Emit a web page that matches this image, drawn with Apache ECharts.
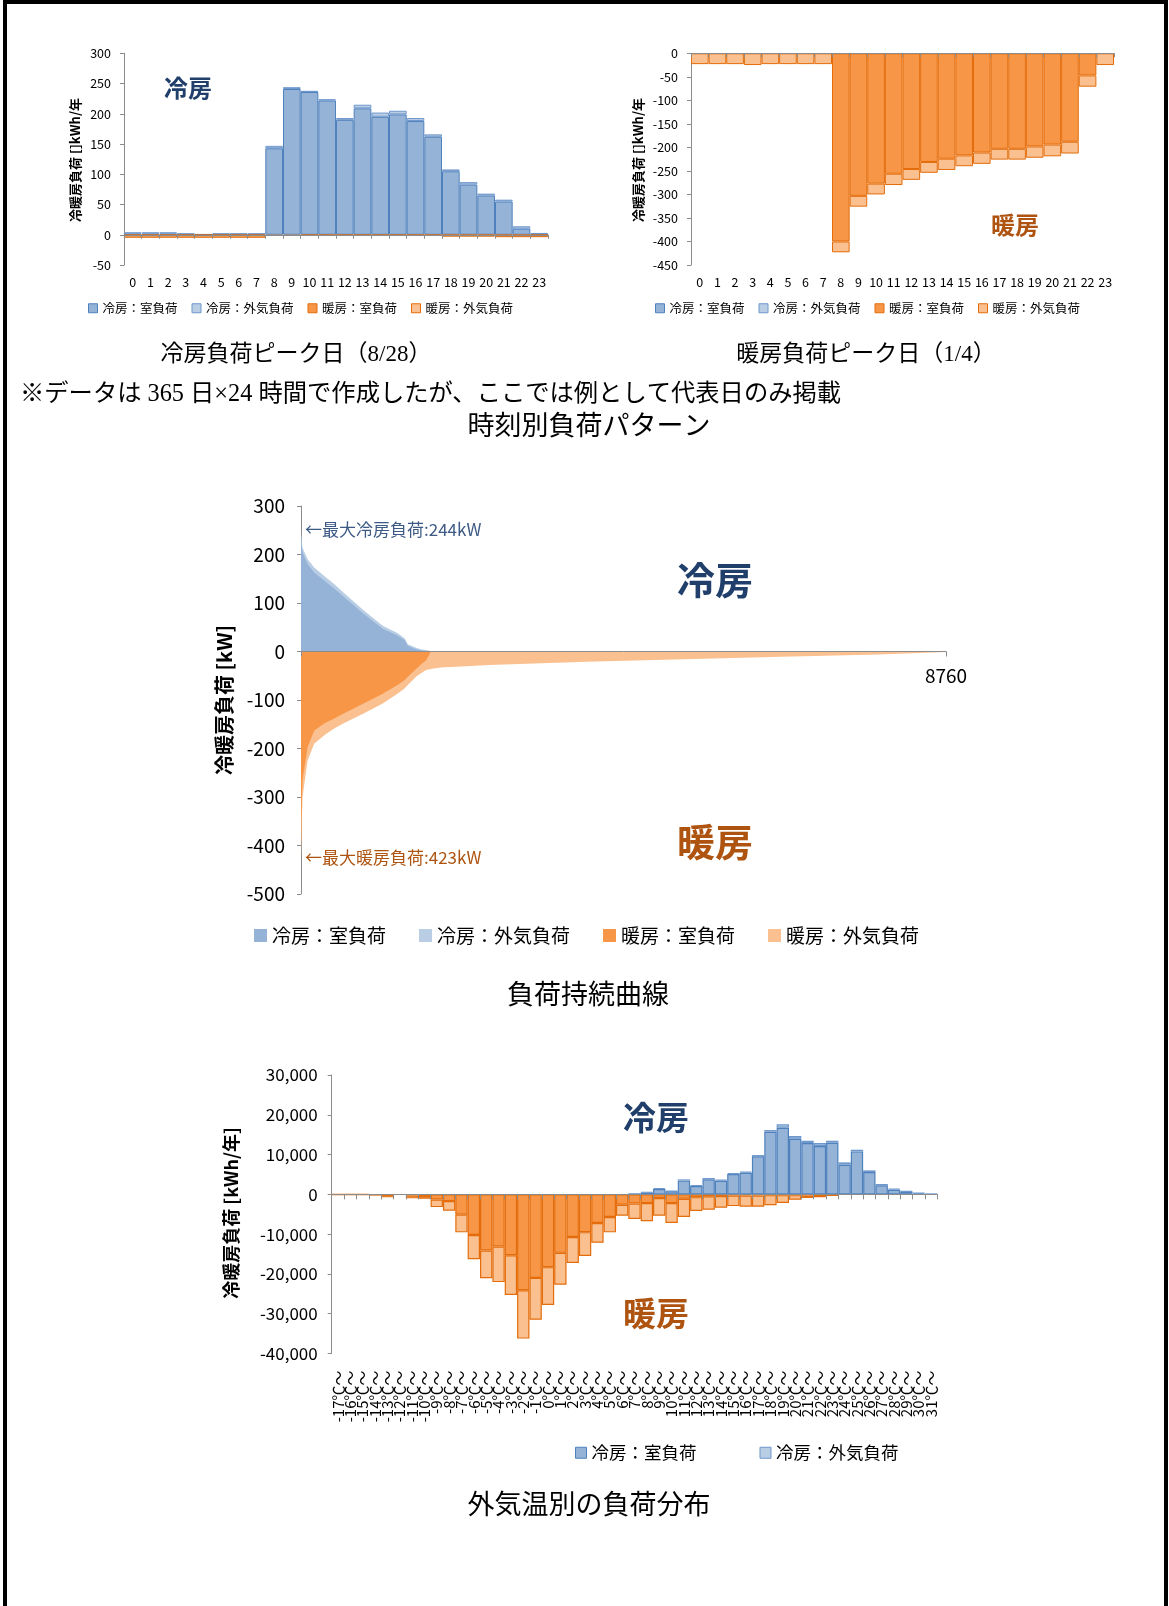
<!DOCTYPE html>
<html>
<head>
<meta charset="utf-8">
<script src="https://cdn.jsdelivr.net/npm/echarts/dist/echarts.min.js"></script>
<style>
html, body { margin: 0; padding: 0; background: #fff; }
#chart { position: absolute; left: 0; top: 0; width: 1169px; height: 1606px; }
#frame { position: absolute; left: 3px; top: 0; width: 1165px; height: 1606px; border: 4px solid #000; border-bottom: none; box-sizing: border-box; pointer-events: none; }
</style>
</head>
<body>
<div id="chart"></div>
<div id="frame"></div>
<script>
// ---- 時刻別負荷パターン : hours of the day ----
const hourLabels = ['0','1','2','3','4','5','6','7','8','9','10','11','12','13','14','15','16','17','18','19','20','21','22','23'];

// 冷房負荷ピーク日 (8/28) [kWh]
const coolDayCoolRoom = [2, 2, 2, 1, 1, 1, 1, 1, 143, 241, 236, 222, 190, 209, 195, 199, 188, 162, 105, 83, 65, 55, 10, 1];
const coolDayCoolOa   = [2, 2, 2, 1, 0, 1, 1, 1, 4, 3, 2, 2, 3, 6, 7, 6, 5, 4, 3, 4, 3, 3, 4, 2];
const coolDayHeatRoom = [-1, -1, -1, -1, -1, -1, -1, -1, 0, 0, 0, 0, 0, 0, 0, 0, 0, 0, -1, -1, -1, -1, -1, -1];
const coolDayHeatOa   = [-4, -4, -4, -4, -4, -4, -4, -4, -2, -2, -1, -1, -1, -1, -1, -1, -1, -1, -2, -2, -2, -3, -3, -3];

// 暖房負荷ピーク日 (1/4) [kWh]
const heatDayCoolRoom = [0, 0, 0, 0, 0, 0, 0, 0, 0, 0, 0, 0, 0, 0, 0, 0, 0, 0, 0, 0, 0, 0, 0, 0];
const heatDayCoolOa   = [0, 0, 0, 0, 0, 0, 0, 0, 0, 0, 0, 0, 0, 0, 0, 0, 0, 0, 0, 0, 0, 0, 0, 0];
const heatDayHeatRoom = [0, 0, 0, 0, 0, 0, 0, 0, -400, -303, -277, -256, -246, -231, -224, -217, -211, -203, -203, -198, -194, -188, -47, 0];
const heatDayHeatOa   = [-23, -23, -23, -25, -23, -23, -23, -23, -23, -23, -23, -24, -23, -23, -24, -23, -24, -23, -23, -24, -25, -25, -24, -25];

// ---- 負荷持続曲線 : sorted hourly loads, sampled at these ranks [h] ----
const durHours    = [0, 20, 90, 180, 320, 450, 580, 850, 1110, 1310, 1410, 1450, 1570, 1640, 1700, 1760, 1900, 2170, 2560, 3880, 5210, 6530, 7850, 8760];
const durCoolRoom = [236, 205, 180, 163, 146, 130, 113, 78, 47, 33, 23, 12, 4, 2, 1, 0, 0, 0, 0, 0, 0, 0, 0, 0];
const durCoolOa   = [8, 9, 10, 10, 9, 9, 8, 7, 6, 5, 4, 3, 3, 2, 2, 1, 1, 0, 0, 0, 0, 0, 0, 0];
const durHeatRoom = [-400, -265, -197, -163, -148, -138, -128, -107, -87, -69, -59, -52, -35, -25, -18, -1, 0, 0, 0, 0, 0, 0, 0, 0];
const durHeatOa   = [-23, -35, -27, -27, -24, -21, -20, -21, -20, -18, -17, -17, -16, -19, -20, -35, -33, -31, -28, -21, -16, -11, -6, -1];
const durTicks    = [0, 8760];

// ---- 外気温別の負荷分布 : outdoor temperature bins [kWh/年] ----
const tempLabels = ['-17℃～','-16℃～','-15℃～','-14℃～','-13℃～','-12℃～','-11℃～','-10℃～','-9℃～','-8℃～',
  '-7℃～','-6℃～','-5℃～','-4℃～','-3℃～','-2℃～','-1℃～','0℃～','1℃～','2℃～',
  '3℃～','4℃～','5℃～','6℃～','7℃～','8℃～','9℃～','10℃～','11℃～','12℃～',
  '13℃～','14℃～','15℃～','16℃～','17℃～','18℃～','19℃～','20℃～','21℃～','22℃～',
  '23℃～','24℃～','25℃～','26℃～','27℃～','28℃～','29℃～','30℃～','31℃～'];
const tempCoolRoom = [0, 0, 0, 0, 0, 0, 0, 0, 0, 0, 0, 0, 0, 0, 0, 0, 0, 0, 0, 0, 0, 0, 0, 0,
  80, 450, 1350, 750, 3450, 2100, 3770, 3430, 5100, 5440, 9550, 15750, 16750, 13990, 12900, 12140, 12980, 7450, 10800, 5610, 2260, 1170, 670, 250, 50];
const tempCoolOa = [0, 0, 0, 0, 0, 0, 0, 0, 0, 0, 0, 0, 0, 0, 0, 0, 0, 0, 0, 0, 0, 0, 0, 0,
  20, 150, 250, 170, 320, 250, 330, 260, 260, 260, 330, 410, 840, 670, 580, 760, 500, 590, 420, 420, 340, 250, 170, 170, 30];
const tempHeatRoom = [-50, -50, -50, -100, -500, 0, -300, -400, -1300, -1700, -5100, -10200, -14100, -13100, -15300, -24100, -21000, -18300, -14700, -10700,
  -9500, -7200, -5700, -2600, -2300, -2200, -900, -2200, -1100, -700, -500, -400, -300, -300, -300, -200, -200, -200, -300, -500,
  -200, 0, 0, 0, 0, 0, 0, 0, 0];
const tempHeatOa = [-50, -50, -50, -50, -200, 0, -700, -700, -1900, -2400, -4450, -6100, -7000, -8950, -10000, -12150, -10500, -9500, -8000, -6550,
  -6000, -4950, -3850, -2750, -3900, -4550, -4450, -5000, -4600, -3500, -3350, -2950, -2650, -2800, -2800, -2550, -1950, -1150, -600, -150,
  -100, 0, 0, 0, 0, 0, 0, 0, 0];

const NAMES = ['冷房：室負荷', '冷房：外気負荷', '暖房：室負荷', '暖房：外気負荷'];
const FILLS = ['#95B3D7', '#B9CDE5', '#F79646', '#FAC090'];
const LINES = ['#4F81BD', '#6F98CC', '#E46C0A', '#E46C0A'];
const F_SANS = "'Noto Sans CJK JP','Noto Sans',sans-serif";
const F_SERIF = "'Liberation Serif','Noto Sans CJK JP',serif";
const AXIS_GREY = '#8C8C8C';
const NAVY = '#213F6B';
const BROWN = '#AE5410';

// stacked bars (room load under outdoor-air load) for one grid
function barSet(xi, yi, sets, bw) {
  return sets.map((vals, k) => ({
    type: 'bar', name: NAMES[k], xAxisIndex: xi, yAxisIndex: yi, stack: 'load' + yi,
    data: vals.map(v => (v === 0 ? null : v)),
    barCategoryGap: '0%',
    itemStyle: { color: FILLS[k], borderColor: LINES[k], borderWidth: bw },
    silent: true, z: 2
  }));
}

// duration-curve areas: total (room + outdoor air) underneath, room load on top
const durCoolTotal = durCoolRoom.map((v, i) => v + durCoolOa[i]);
const durHeatTotal = durHeatRoom.map((v, i) => v + durHeatOa[i]);
function area(name, vals, color, z) {
  return {
    type: 'line', name, xAxisIndex: 4, yAxisIndex: 2,
    data: durHours.map((h, i) => [h, vals[i]]),
    symbol: 'none', showSymbol: false, lineStyle: { width: 0 },
    itemStyle: { color }, areaStyle: { color, opacity: 1 }, z, silent: true
  };
}

function legendItems(names, bordered) {
  return names.map(n => {
    const k = NAMES.indexOf(n);
    return { name: n, icon: 'rect', itemStyle: { color: FILLS[k], borderColor: bordered ? LINES[k] : FILLS[k], borderWidth: bordered ? 1 : 0 } };
  });
}
function legend(left, top, names, size, gap, font, bordered) {
  return {
    left, top, padding: 0, orient: 'horizontal', itemWidth: size, itemHeight: size, itemGap: gap,
    selectedMode: false, textStyle: { fontSize: font, color: '#000', fontFamily: F_SANS },
    data: legendItems(names, bordered)
  };
}

// category axes: one carries the labels at the bottom, the other is the zero line with ticks
function catLabelAxis(grid, data, font, margin, rotate) {
  return {
    type: 'category', gridIndex: grid, data, position: 'bottom',
    axisLine: { show: false, onZero: false }, axisTick: { show: false },
    axisLabel: { fontSize: font, color: '#000', margin, interval: 0, rotate: rotate || 0, fontFamily: F_SANS }
  };
}
function catZeroAxis(grid, data, tick) {
  return {
    type: 'category', gridIndex: grid, data, position: 'top', z: 5,
    axisLine: { show: true, onZero: true, lineStyle: { color: AXIS_GREY, width: 1 } },
    axisTick: { show: true, inside: true, length: tick, interval: 0, lineStyle: { color: AXIS_GREY } },
    axisLabel: { show: false }, splitLine: { show: false }
  };
}
function valAxis(grid, min, max, interval, font, margin, fmt) {
  return {
    type: 'value', gridIndex: grid, min, max, interval,
    axisLine: { show: true, lineStyle: { color: AXIS_GREY } },
    axisTick: { show: true, length: 4, lineStyle: { color: AXIS_GREY } },
    splitLine: { show: false },
    axisLabel: { fontSize: font, color: '#000', margin, fontFamily: F_SANS, formatter: fmt }
  };
}

function text(x, y, str, size, opts) {
  opts = opts || {};
  return {
    type: 'text', x, y, rotation: opts.rot || 0, silent: true,
    style: {
      text: str, fontSize: size, fontFamily: opts.family || F_SANS, fontWeight: opts.weight || 'normal',
      fill: opts.color || '#000', align: opts.align || 'center', verticalAlign: 'middle'
    }
  };
}

const maxCool = durCoolRoom[0] + durCoolOa[0];
const maxHeat = -(durHeatRoom[0] + durHeatOa[0]);
const durMax = durTicks[durTicks.length - 1];

const option = {
  animation: false,
  grid: [
    { left: 124, top: 53.3, width: 424, height: 211.7, outerBoundsMode: 'none' },
    { left: 691, top: 53.3, width: 423, height: 211.7, outerBoundsMode: 'none' },
    { left: 301, top: 506, width: 645, height: 388, outerBoundsMode: 'none' },
    { left: 331.7, top: 1075, width: 605.6, height: 278.5, outerBoundsMode: 'none' },
    // upper half of the duration-curve plot: its bottom edge is the 0 kW line, where the hour label sits
    { left: 301, top: 506, width: 645, height: 145.5, outerBoundsMode: 'none' }
  ],
  xAxis: [
    catLabelAxis(0, hourLabels, 12.5, 11),
    catZeroAxis(0, hourLabels, 4),
    catLabelAxis(1, hourLabels, 12.5, 11),
    catZeroAxis(1, hourLabels, 4),
    {
      type: 'value', gridIndex: 2, min: 0, max: durMax, interval: durMax, z: 5,
      axisLine: { show: true, onZero: true, lineStyle: { color: AXIS_GREY } },
      axisTick: { show: true, length: 5, lineStyle: { color: AXIS_GREY } },
      splitLine: { show: false }, axisLabel: { show: false }
    },
    catLabelAxis(3, tempLabels, 15, 17, 90),
    catZeroAxis(3, tempLabels, 5),
    {
      type: 'value', gridIndex: 4, min: 0, max: durMax, interval: durMax, position: 'bottom',
      axisLine: { show: false, onZero: false }, axisTick: { show: false }, splitLine: { show: false },
      axisLabel: { fontSize: 19, color: '#000', margin: 15, fontFamily: F_SANS, showMinLabel: false, showMaxLabel: true,
        formatter: v => (v === durMax ? String(durMax) : '') }
    }
  ],
  yAxis: [
    valAxis(0, -50, 300, 50, 12.5, 13),
    valAxis(1, -450, 0, 50, 12.5, 13),
    valAxis(2, -500, 300, 100, 19, 16),
    valAxis(3, -40000, 30000, 10000, 17, 14, v => v.toLocaleString('en-US')),
    { type: 'value', gridIndex: 4, min: 0, max: 300, show: false }
  ],
  legend: [
    legend(88, 302, NAMES, 9, 14, 12.5, true),
    legend(655, 302, NAMES, 9, 14, 12.5, true),
    legend(254, 926, NAMES, 13, 33, 19, false),
    legend(575, 1444, NAMES.slice(0, 2), 11, 63, 17.5, true)
  ],
  series: [
    ...barSet(1, 0, [coolDayCoolRoom, coolDayCoolOa, coolDayHeatRoom, coolDayHeatOa], 1),
    ...barSet(3, 1, [heatDayCoolRoom, heatDayCoolOa, heatDayHeatRoom, heatDayHeatOa], 1),
    area(NAMES[1], durCoolTotal, FILLS[1], 1),
    area(NAMES[0], durCoolRoom, FILLS[0], 2),
    area(NAMES[3], durHeatTotal, FILLS[3], 1),
    area(NAMES[2], durHeatRoom, FILLS[2], 2),
    ...barSet(6, 3, [tempCoolRoom, tempCoolOa, tempHeatRoom, tempHeatOa], 1.2)
  ],
  graphic: [
    // 時刻別負荷パターン
    text(75, 160, '冷暖房負荷 []kWh/年', 13, { weight: 'bold', rot: Math.PI / 2 }),
    text(638, 160, '冷暖房負荷 []kWh/年', 13, { weight: 'bold', rot: Math.PI / 2 }),
    text(188, 88, '冷房', 24, { weight: 'bold', color: NAVY }),
    text(1015, 225, '暖房', 24, { weight: 'bold', color: BROWN }),
    text(296, 355, '冷房負荷ピーク日（8/28）', 23, { family: F_SERIF }),
    text(866, 355, '暖房負荷ピーク日（1/4）', 23, { family: F_SERIF }),
    text(20, 395, '※データは 365 日×24 時間で作成したが、ここでは例として代表日のみ掲載', 24.3, { family: F_SERIF, align: 'left' }),
    text(589, 425, '時刻別負荷パターン', 27),
    // 負荷持続曲線
    text(224, 700, '冷暖房負荷 [kW]', 20, { weight: 'bold', rot: Math.PI / 2 }),
    text(305, 530, '←最大冷房負荷:' + maxCool + 'kW', 17, { align: 'left', color: '#3D5A85' }),
    text(305, 858, '←最大暖房負荷:' + maxHeat + 'kW', 17, { align: 'left', color: BROWN }),
    text(715, 580, '冷房', 38, { weight: 'bold', color: NAVY }),
    text(715, 842, '暖房', 38, { weight: 'bold', color: BROWN }),
    text(588, 994, '負荷持続曲線', 27),
    // 外気温別の負荷分布
    text(231, 1213, '冷暖房負荷 [kWh/年]', 18, { weight: 'bold', rot: Math.PI / 2 }),
    text(656, 1117, '冷房', 33, { weight: 'bold', color: NAVY }),
    text(656, 1313, '暖房', 33, { weight: 'bold', color: BROWN }),
    text(589, 1504, '外気温別の負荷分布', 27)
  ]
};

const chart = echarts.init(document.getElementById('chart'), null, { renderer: 'canvas' });
chart.setOption(option);
</script>
</body>
</html>
